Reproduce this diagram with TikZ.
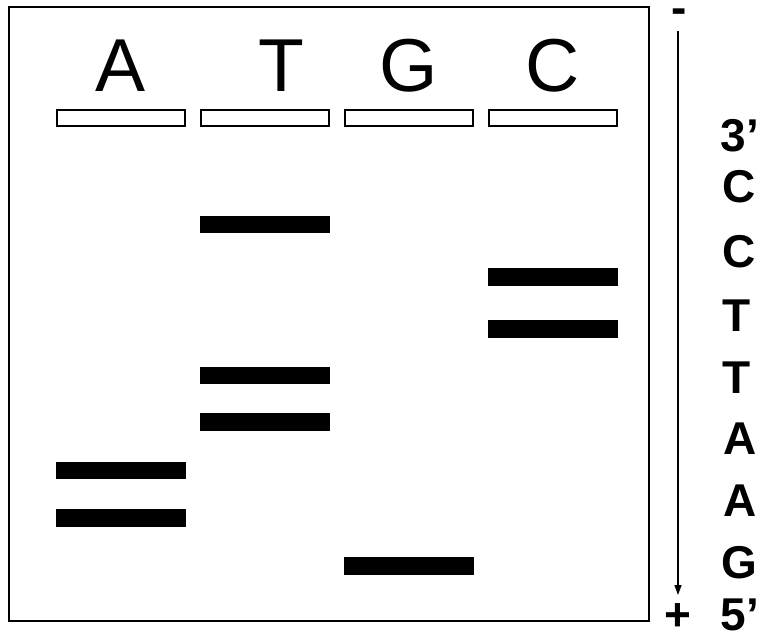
\documentclass[tikz,border=0pt]{standalone}
\usepackage{fontspec}
\setmainfont{Liberation Sans}
\usetikzlibrary{arrows.meta}
\begin{document}
\begin{tikzpicture}[x=1pt,y=-1pt,
  well/.style={draw=black,line width=1.6pt,fill=white},
  band/.style={fill=black,draw=none},
  lanelabel/.style={inner sep=0pt,anchor=base,font=\fontsize{75}{75}\selectfont},
  seqlabel/.style={inner sep=0pt,anchor=base,font=\fontsize{46}{46}\selectfont\bfseries},
  gelbox/.style={draw=black,line width=2pt}]
\useasboundingbox (0,0) rectangle (764,636);
\fill[white] (0,0) rectangle (764,636);
% gel
\draw[gelbox] (9,7) rectangle (649,621);
% lane labels
\node[lanelabel] (lA) at (121,92) {A};
\node[lanelabel] (lT) at (281,92) {T};
\node[lanelabel] (lG) at (409,92) {G};
\node[lanelabel] (lC) at (553,92) {C};
% wells
\draw[well] (57,110) rectangle (185,126);
\draw[well] (201,110) rectangle (329,126);
\draw[well] (345,110) rectangle (473,126);
\draw[well] (489,110) rectangle (617,126);
% bands A
\fill[band] (56,462) rectangle (186,479);
\fill[band] (56,509) rectangle (186,527);
% bands T
\fill[band] (200,216) rectangle (330,233);
\fill[band] (200,367) rectangle (330,384);
\fill[band] (200,413) rectangle (330,431);
% band G
\fill[band] (344,557) rectangle (474,575);
% bands C
\fill[band] (488,268) rectangle (618,286);
\fill[band] (488,320) rectangle (618,338);
% electrodes and arrow
\node[seqlabel] (minus) at (679,24) {-};
\node[seqlabel] (plus) at (678,630) {+};
\coordinate (atop) at (678,31);
\coordinate (abot) at (678,595);
\draw[line width=1.5pt,-{Triangle[width=7pt,length=10pt]}] (atop) -- (abot);
% sequence
\node[seqlabel] (s3) at (740,152) {3’};
\node[seqlabel] (s1) at (739,203) {C};
\node[seqlabel] (s2) at (739,268) {C};
\node[seqlabel] (s4) at (737,332) {T};
\node[seqlabel] (s5) at (737,394) {T};
\node[seqlabel] (s6) at (740,455) {A};
\node[seqlabel] (s7) at (740,517) {A};
\node[seqlabel] (s8) at (739,578) {G};
\node[seqlabel] (s5p) at (740,630) {5’};
\end{tikzpicture}
\end{document}
